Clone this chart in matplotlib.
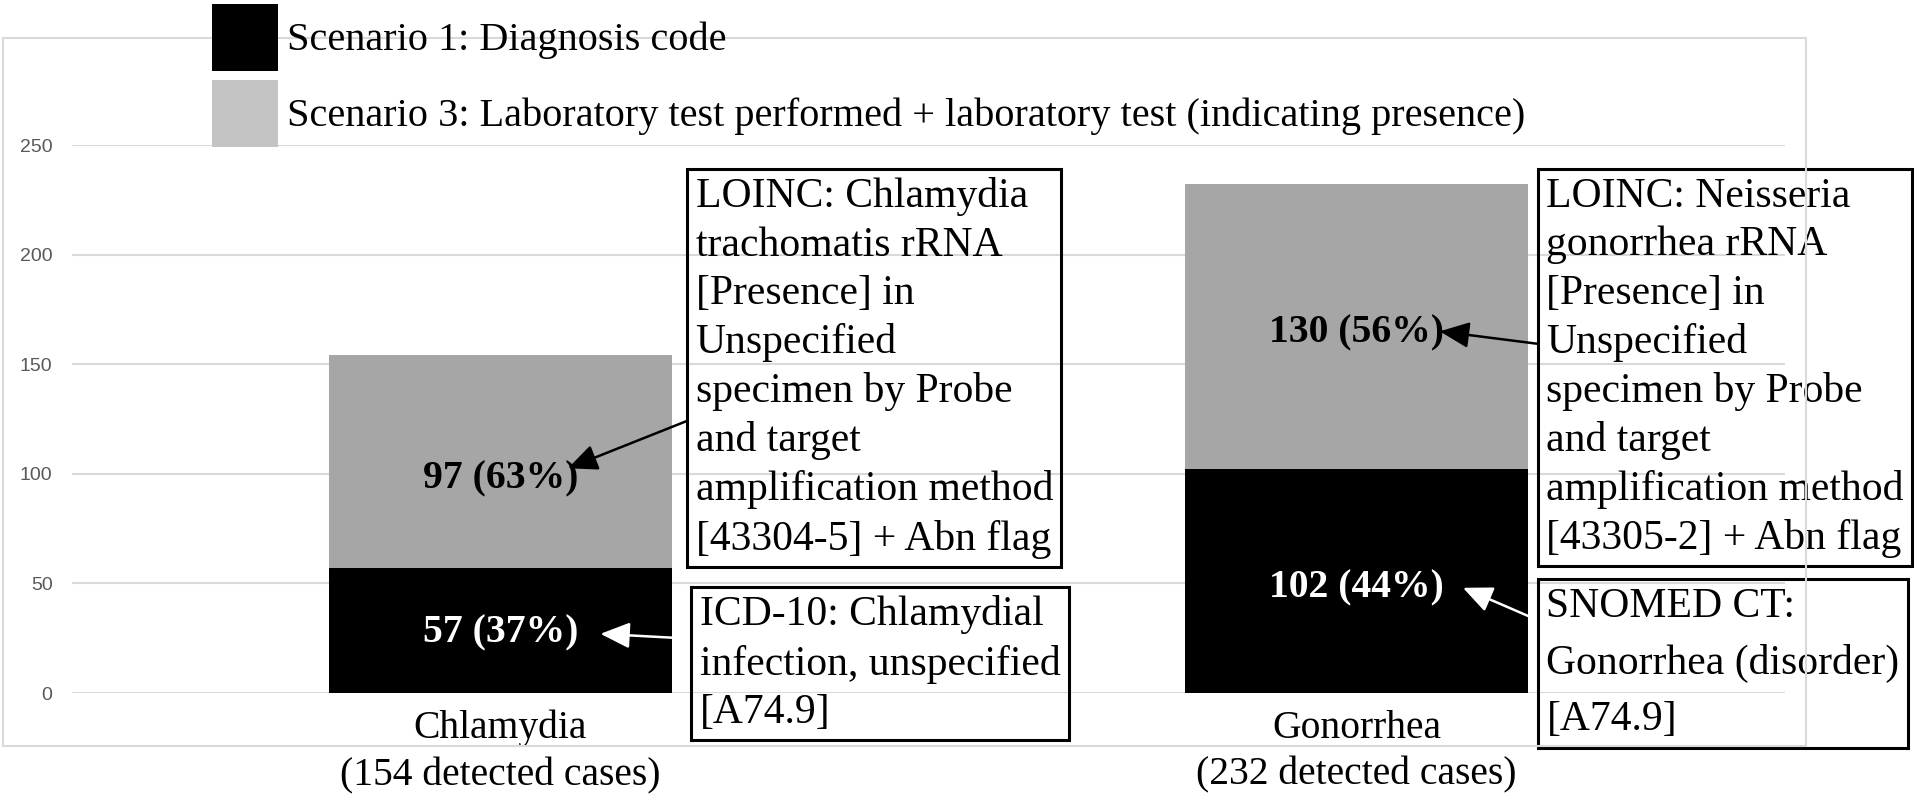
import matplotlib
matplotlib.use("Agg")
import matplotlib.pyplot as plt
from matplotlib.patches import Patch, Rectangle

# Datos del grafico
categorias = ["Chlamydia", "Gonorrhea"]
total_casos = [154, 232]
escenario1 = [57, 102]    # Diagnosis code
escenario3 = [97, 130]    # Laboratory test
nombres_series = ["Scenario 1: Diagnosis code",
                  "Scenario 3: Laboratory test performed + laboratory test (indicating presence)"]
y_ticks = [0, 50, 100, 150, 200, 250]

textos_lab = ["LOINC: Chlamydia\ntrachomatis rRNA\n[Presence] in\nUnspecified\nspecimen by Probe\nand target\namplification method\n[43304-5] + Abn flag",
              "LOINC: Neisseria\ngonorrhea rRNA\n[Presence] in\nUnspecified\nspecimen by Probe\nand target\namplification method\n[43305-2] + Abn flag"]
textos_diag = ["ICD-10: Chlamydial\ninfection, unspecified\n[A74.9]",
               "SNOMED CT:\nGonorrhea (disorder)\n[A74.9]"]

W, H = 1920, 795
SERIF = ["Liberation Serif", "DejaVu Serif"]

fig = plt.figure(figsize=(W / 100, H / 100), dpi=100)
ax = fig.add_axes([72 / W, 1 - 693 / H, (1785 - 72) / W, (693 - 145) / H])

# Marco del area del grafico
fig.patches.append(Rectangle((3 / W, 1 - 746 / H), 1803 / W, 708 / H,
                             transform=fig.transFigure, fill=False,
                             ec="#d9d9d9", lw=1.5, zorder=0))

x = list(range(len(categorias)))
ax.bar(x, escenario1, width=0.4, color="black", zorder=3)
ax.bar(x, escenario3, width=0.4, bottom=escenario1, color="#a6a6a6", zorder=3)

ax.set_xlim(-0.5, 1.5)
ax.set_ylim(0, 250)
ax.set_yticks(y_ticks)
ax.yaxis.grid(True, color="#d9d9d9", lw=1.5, zorder=0)
ax.set_axisbelow(True)
for s in ax.spines.values():
    s.set_visible(False)
ax.tick_params(axis="both", length=0)
ax.tick_params(axis="y", labelsize=14, labelcolor="#595959", pad=14)
for t in ax.get_yticklabels():
    t.set_family(["Liberation Sans", "DejaVu Sans"])

ax.set_xticks(x)
ax.set_xticklabels([f"{c}\n({n} detected cases)" for c, n in zip(categorias, total_casos)],
                   fontsize=28.5, family=SERIF, linespacing=1.35)
ax.tick_params(axis="x", pad=12)

# Etiquetas de valores
frac1 = [0.48, 0.47]
frac3 = [0.42, 0.48]
for i in x:
    p1 = round(100 * escenario1[i] / total_casos[i])
    p3 = round(100 * escenario3[i] / total_casos[i])
    ax.text(i, escenario1[i] * frac1[i], f"{escenario1[i]} ({p1}%)", color="white",
            ha="center", va="center", fontsize=28.5, fontweight="bold", family=SERIF, zorder=5)
    ax.text(i, escenario1[i] + escenario3[i] * frac3[i], f"{escenario3[i]} ({p3}%)", color="black",
            ha="center", va="center", fontsize=28.5, fontweight="bold", family=SERIF, zorder=5)

# Cajas con flechas
pad = 8.5
caja_lab = [(687, 169), (1538, 169)]
caja_diag = [(691, 587), (1538, 579)]
interlineado_diag = [1.335, 1.6]
punta_lab = [(0.079, 102.5), (1.097, 165)]
punta_diag = [(0.117, 27), (1.124, 48)]
rel_lab = [0.37, 0.56]
rel_diag = [0.68, 0.76]
color_flecha_diag = ["white", "white"]

for i in x:
    bx, by = caja_lab[i]
    ax.annotate(textos_lab[i], xy=punta_lab[i], xycoords="data",
                xytext=(bx + pad, H - by - pad), textcoords="figure pixels",
                ha="left", va="top", fontsize=30, family=SERIF, linespacing=1.335,
                bbox=dict(boxstyle="square,pad=0.2", fc="none", ec="black", lw=2.2),
                arrowprops=dict(arrowstyle="-|>,head_length=0.9,head_width=0.4",
                                mutation_scale=20, color="black", lw=1.8,
                                relpos=(0, rel_lab[i]), shrinkA=0, shrinkB=0),
                zorder=6)
    bx, by = caja_diag[i]
    ax.annotate(textos_diag[i], xy=punta_diag[i], xycoords="data",
                xytext=(bx + pad, H - by - pad), textcoords="figure pixels",
                ha="left", va="top", fontsize=30, family=SERIF,
                linespacing=interlineado_diag[i],
                bbox=dict(boxstyle="square,pad=0.2", fc="none", ec="black", lw=2.2),
                arrowprops=dict(arrowstyle="-|>,head_length=0.9,head_width=0.4",
                                mutation_scale=20, color=color_flecha_diag[i], lw=1.8,
                                relpos=(0, rel_diag[i]), shrinkA=0, shrinkB=0),
                zorder=6)

# Leyenda
fs_px = 29 * 100 / 72
fig.legend(handles=[Patch(fc="black", ec="none"), Patch(fc="#c4c4c4", ec="none")],
           labels=nombres_series, loc="upper left",
           bbox_to_anchor=(212 / W, 1 - 4 / H), frameon=False,
           borderpad=0, borderaxespad=0,
           handlelength=66 / fs_px, handleheight=2.18,
           labelspacing=0.22, handletextpad=9 / fs_px,
           prop={"family": SERIF, "size": 29})

fig.savefig("out.png", dpi=100)
